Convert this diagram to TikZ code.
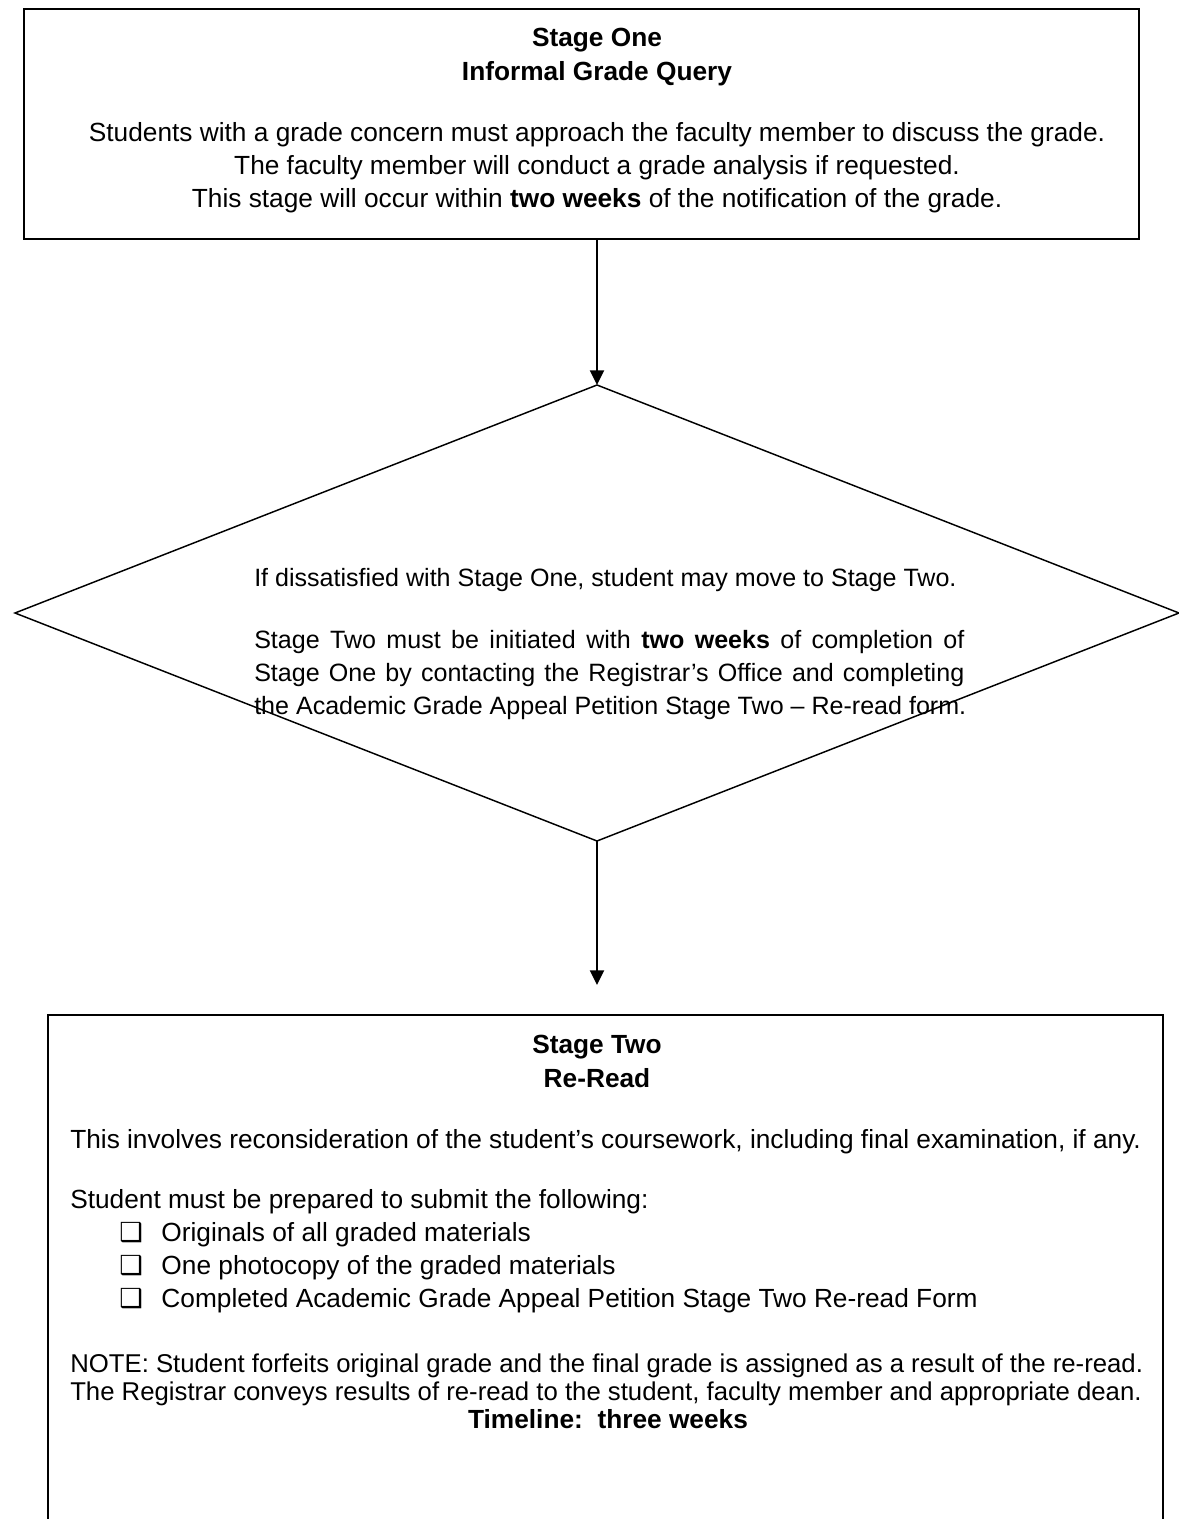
\documentclass[tikz,border=0pt]{standalone}
\usepackage{fontspec}
\setmainfont{Liberation Sans}
\newfontfamily\tickfont{DejaVu Sans}
\usepackage{xcolor}
\usetikzlibrary{arrows.meta,positioning,shapes.geometric}
\tikzset{
  stagebox/.style={draw, line width=1.5pt, rectangle, inner sep=0pt, outer sep=0pt},
  querybox/.style={draw, line width=1.1pt, diamond, inner sep=0pt, outer sep=0pt},
  flowarrow/.style={line width=1.5pt, -{Triangle[length=11pt,width=10.5pt]}},
  txt/.style={inner sep=0pt, anchor=base, font=\fontsize{19.7}{24}\selectfont},
  ltxt/.style={txt, anchor=base west},
  qtxt/.style={ltxt, font=\fontsize{18.8}{24}\selectfont},
  ntxt/.style={ltxt, font=\fontsize{19.3}{24}\selectfont},
}
\newcommand{\tick}{{\tickfont\char"2751}}

\begin{document}
\begin{tikzpicture}[x=0.75pt, y=-0.75pt]
  \useasboundingbox (0,0) rectangle (1178,1519);
  % the three stages
  \node[stagebox, minimum width=836.25pt, minimum height=172.5pt] (stageone) at (581.5,124) {};
  \node[querybox, minimum width=873pt, minimum height=342pt] (query) at (597,613) {};
  \node[stagebox, minimum width=836.25pt, minimum height=450pt] (stagetwo) at (605.5,1315) {};
  \coordinate (reread) at (597,985);
  \draw[flowarrow] (stageone.south -| query.north) -- (query.north);
  \draw[flowarrow] (query.south) -- (reread);
  % stage one text
  \node[txt] (onetitle) at (597,47) {\bfseries Stage One};
  \node[txt] (onesub) at (597,81) {\bfseries Informal Grade Query};
  \node[txt] (onea) at (597,142) {Students with a grade concern must approach the faculty member to discuss the grade.};
  \node[txt] (oneb) at (597,175) {The faculty member will conduct a grade analysis if requested.};
  \node[txt] (onec) at (597,208) {This stage will occur within \textbf{two weeks} of the notification of the grade.};
  % query text
  \def\qw{532.5pt}
  \node[qtxt] (qa) at (254,586) {If dissatisfied with Stage One, student may move to Stage Two.};
  \node[qtxt] (qb) at (254,648) {\makebox[\qw][s]{Stage Two must be initiated with \textbf{two weeks} of completion of}};
  \node[qtxt] (qc) at (254,681) {\makebox[\qw][s]{Stage One by contacting the Registrar’s Office and completing}};
  \node[qtxt] (qd) at (254,714) {the Academic Grade Appeal Petition Stage Two – Re-read form.};
  % stage two text
  \node[txt] (twotitle) at (597,1053) {\bfseries Stage Two};
  \node[txt] (twosub) at (597,1087) {\bfseries Re-Read};
  \node[ltxt] (twoa) at (70,1148) {This involves reconsideration of the student’s coursework, including final examination, if any.};
  \node[ltxt] (twob) at (70,1208) {Student must be prepared to submit the following:};
  \foreach \y/\what [count=\i] in {1241/Originals of all graded materials,
      1274/One photocopy of the graded materials,
      1307/Completed Academic Grade Appeal Petition Stage Two Re-read Form}
    \node[ltxt] (item\i) at (119,\y) {\tick\hspace{14pt}\what};
  \node[ntxt] (note) at (70,1372) {NOTE: Student forfeits original grade and the final grade is assigned as a result of the re-read.};
  \node[ntxt] (notb) at (70,1400) {The Registrar conveys results of re-read to the student, faculty member and appropriate dean.};
  \node[txt] (timeline) at (608,1428) {\bfseries Timeline:\ \ three weeks};
\end{tikzpicture}
\end{document}
